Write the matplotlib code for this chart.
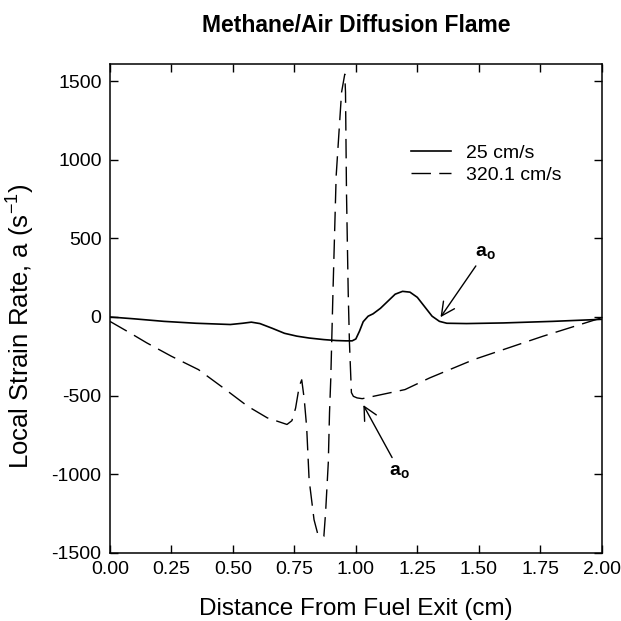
import matplotlib
matplotlib.use('Agg')
import matplotlib.pyplot as plt

plt.rcParams['font.family'] = ['Liberation Sans', 'DejaVu Sans']
plt.rcParams['mathtext.fontset'] = 'custom'
plt.rcParams['mathtext.rm'] = 'Liberation Sans'
plt.rcParams['mathtext.bf'] = 'Liberation Sans:bold'
plt.rcParams['axes.unicode_minus'] = False

# 25 cm/s case
x_low = [0.0, 0.10, 0.22, 0.35, 0.49, 0.54, 0.575, 0.61, 0.66, 0.71, 0.76, 0.81, 0.87,
         0.92, 0.96, 0.985, 1.0, 1.015, 1.03, 1.05, 1.07, 1.10, 1.13, 1.16, 1.19, 1.22,
         1.25, 1.28, 1.31, 1.34, 1.37, 1.45, 1.60, 1.80, 2.0]
a_low = [0, -12, -28, -40, -48, -40, -33, -42, -72, -104, -122, -134, -144,
         -150, -152, -152, -140, -90, -30, 5, 20, 55, 100, 145, 163, 158,
         125, 65, 5, -28, -40, -42, -38, -28, -15]

# 320.1 cm/s case
x_high = [0.0, 0.08, 0.15, 0.25, 0.36, 0.46, 0.56, 0.64, 0.72, 0.74, 0.755, 0.77, 0.78,
          0.79, 0.80, 0.81, 0.83, 0.845, 0.857, 0.87, 0.877, 0.888, 0.893, 0.898, 0.907,
          0.92, 0.942, 0.955, 0.958, 0.962, 0.969, 0.974, 0.982, 0.99, 1.005, 1.026,
          1.20, 1.30, 1.48, 1.76, 2.0]
a_high = [-28, -100, -165, -250, -335, -450, -568, -642, -684, -660, -580, -440, -400,
          -520, -700, -1035, -1290, -1380, -1400, -1396, -1245, -927, -608, -398, 156,
          897, 1430, 1545, 1430, 793, 156, -162, -481, -505, -515, -520,
          -462, -388, -271, -123, -5]

fig = plt.figure(figsize=(6.21, 6.21), dpi=100)
ax = fig.add_axes([0.177, 0.11, 0.792, 0.787])

ax.plot(x_low, a_low, color='black', lw=1.2, label='25 cm/s')
ax.plot(x_high, a_high, color='black', lw=1.0, dashes=(14, 6), label='320.1 cm/s')

ax.set_xlim(0, 2)
ax.set_ylim(-1500, 1610)
ax.set_xticks([0, 0.25, 0.5, 0.75, 1.0, 1.25, 1.5, 1.75, 2.0])
ax.set_xticklabels(['0.00', '0.25', '0.50', '0.75', '1.00', '1.25', '1.50', '1.75', '2.00'])
ax.set_yticks([-1500, -1000, -500, 0, 500, 1000, 1500])
ax.tick_params(direction='in', length=6, width=1, top=True, right=True,
               labelsize=14, pad=6)
for s in ax.spines.values():
    s.set_linewidth(1.1)

fig.text(0.573, 1 - 25 / 621, 'Methane/Air Diffusion Flame', fontsize=16.5,
         fontweight='bold', ha='center', va='center')
ax.set_xlabel('Distance From Fuel Exit (cm)', fontsize=17.5)
ax.xaxis.set_label_coords(0.5, -0.092)
ax.set_ylabel('Local Strain Rate, a (s$^{-1}$)', fontsize=18.5)
ax.yaxis.set_label_coords(-0.15, 0.463)

ax.legend(loc='upper left', bbox_to_anchor=(0.6126, 0.835), frameon=False, fontsize=14,
          handlelength=2.05, handletextpad=0.77, labelspacing=0.19, borderpad=0,
          borderaxespad=0)

arrow = dict(arrowstyle='->', color='black', lw=1.0, mutation_scale=24)
ax.annotate(r'$\mathbf{a_o}$', xy=(1.338, -16), xytext=(1.526, 411), fontsize=14,
            ha='center', va='center', arrowprops=arrow)
ax.annotate(r'$\mathbf{a_o}$', xy=(1.025, -545), xytext=(1.178, -982), fontsize=14,
            ha='center', va='center', arrowprops=arrow)

fig.savefig('out.png', dpi=100)
